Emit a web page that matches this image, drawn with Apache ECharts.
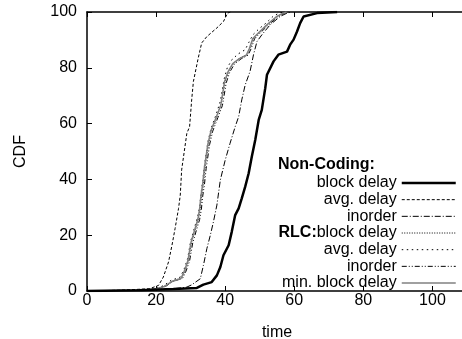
<!DOCTYPE html>
<html>
<head>
<meta charset="utf-8">
<script src="https://cdn.jsdelivr.net/npm/echarts@6/dist/echarts.min.js"></script>
<style>
html,body{margin:0;padding:0;background:#fff;}
#main{width:462px;height:339px;}
</style>
</head>
<body>
<div id="main"></div>
<script>
// CDF curves, [time, CDF]
var ncBlock = [[0,0],[15,0.3],[25,0.7],[31.8,1.1],[33.7,2.3],[36.1,3.2],[37.6,5.6],[38.6,8.6],[39.5,12.8],[41.0,16.4],[41.9,21.2],[42.9,27.2],[43.9,29.6],[44.8,33.2],[45.8,37.4],[46.8,42.2],[47.7,48.1],[48.7,54.1],[49.7,61.3],[50.6,64.9],[51.6,72.7],[52.1,77.5],[54.0,82.3],[55.4,84.7],[57.9,85.8],[58.8,88.3],[59.8,90.1],[60.8,93.0],[61.7,96.0],[62.7,98.4],[66.6,99.6],[72.4,100]];
var ncAvg = [[0,0],[10,0.3],[18,0.8],[20.7,2.0],[22.1,5.0],[23.6,10.4],[24.6,16.4],[25.5,22.4],[26.5,29.6],[27.0,34.4],[27.4,43.4],[28.9,56.5],[29.7,58.9],[30.3,68.5],[30.8,75.1],[32.2,83.5],[33.2,88.9],[34.7,91.2],[37.6,94.3],[39.5,96.6],[40.7,99.6],[41.5,100]];
var ncInorder = [[0,0],[15,0.3],[25,0.8],[28.9,1.4],[30.3,2.2],[32.8,4.4],[33.7,9.2],[34.7,15.2],[35.7,20.0],[36.6,24.8],[37.6,30.8],[38.6,39.8],[40.0,46.9],[41.4,52.9],[42.9,58.9],[43.9,62.5],[44.8,68.5],[45.8,73.9],[47.2,78.7],[48.2,84.7],[49.2,89.4],[50.6,91.8],[53.0,95.4],[55.9,98.4],[57.9,99.6],[59,100]];
var rlcBlock = [[0,0],[15,0.3],[20,0.8],[22.6,1.8],[24.6,3.5],[27.4,4.7],[28.4,7.4],[29.4,11.0],[30.3,17.6],[31.3,21.8],[32.3,26.0],[32.8,29.6],[33.2,34.4],[33.7,38.6],[34.2,44.5],[35.2,52.9],[36.1,57.7],[37.6,62.5],[38.8,67.0],[40.0,75.1],[41.0,78.7],[42.4,81.7],[44.3,83.5],[46.3,84.7],[47.2,87.1],[48.2,90.7],[50.1,93.0],[52.1,95.4],[55.0,98.4],[56.9,99.6],[58,100]];
var rlcAvg = [[0,0],[15,0.3],[20,0.9],[22.3,2.0],[24.3,3.8],[27.0,5.0],[28.1,7.8],[29.1,11.5],[30.0,17.8],[31.0,22.2],[32.0,26.5],[32.6,30.0],[33.0,35.0],[33.5,39.5],[34.0,45.0],[35.0,53.5],[35.9,58.2],[37.3,63.0],[38.6,68.0],[39.7,76.0],[40.6,80.0],[42.0,83.0],[43.8,85.0],[45.8,86.5],[46.8,89.0],[48.0,91.8],[49.8,94.0],[51.8,96.0],[54.0,98.6],[55.8,99.7],[57,100]];
var rlcInorder = [[0,0],[15,0.3],[20,0.8],[22.8,1.7],[24.9,3.4],[27.7,4.6],[28.7,7.2],[29.7,10.8],[30.6,17.2],[31.6,21.5],[32.6,25.6],[33.1,29.2],[33.5,34.0],[34.0,38.2],[34.5,44.0],[35.5,52.5],[36.4,57.3],[37.9,62.2],[39.2,66.5],[40.3,74.6],[41.3,78.4],[42.7,81.4],[44.6,83.2],[46.6,84.5],[47.5,86.8],[48.5,90.4],[50.4,92.8],[52.4,95.2],[55.3,98.3],[57.2,99.6],[58.3,100]];
var minBlock = [[0,0],[15,0.2],[20,0.7],[22.4,1.6],[24.4,3.3],[27.2,4.5],[28.2,7.2],[29.2,10.8],[30.1,17.4],[31.1,21.6],[32.1,25.8],[32.6,29.4],[33.0,34.2],[33.5,38.4],[34.0,44.3],[35.0,52.7],[35.9,57.5],[37.4,62.3],[38.7,66.4],[39.8,75.0],[40.8,78.5],[42.2,81.5],[44.1,83.3],[46.1,84.5],[47.0,86.9],[48.0,90.5],[49.9,92.8],[51.9,95.2],[54.8,98.3],[56.7,99.5],[57.8,100]];

var seriesNames = ['nc block', 'nc avg', 'nc inorder', 'rlc block', 'rlc avg', 'rlc inorder', 'min block'];
var legendLabels = ['block delay', 'avg. delay', 'inorder', '{b|RLC:}block delay', 'avg. delay', 'inorder', 'min. block delay'];
var xTicks = [0, 20, 40, 60, 80, 100];

var font = '"Liberation Sans", Arial, Helvetica, sans-serif';

function mkLine(name, data, color, width, dash) {
	return {
		name: name,
		type: 'line',
		data: data,
		showSymbol: false,
		symbol: 'none',
		silent: true,
		z: name == 'nc block' ? 5 : 3,
		itemStyle: {color: color},
		lineStyle: {color: color, width: width, type: dash}
	};
}

var myChart = echarts.init(document.getElementById('main'));
var option = {
	animation: false,
	backgroundColor: '#fff',
	grid: {left: 87, top: 12, right: -5, bottom: 48, outerBoundsMode: 'none', containLabel: false},
	xAxis: [{
		type: 'value',
		min: 0, max: 110, interval: 20,
		name: 'time',
		nameLocation: 'middle',
		nameGap: 34,
		nameTextStyle: {fontFamily: font, fontSize: 16, color: '#000'},
		axisLine: {lineStyle: {color: '#000', width: 1.5}},
		axisTick: {inside: true, length: 5, lineStyle: {color: '#000'}},
		axisLabel: {
			margin: 2, fontFamily: font, fontSize: 16, color: '#000', showMaxLabel: false,
			formatter: function(v) { return xTicks.indexOf(v) >= 0 ? String(v) : ''; }
		},
		splitLine: {show: false}
	}, {
		type: 'value',
		position: 'top',
		min: 0, max: 110, interval: 20,
		axisLine: {lineStyle: {color: '#000', width: 1.5}},
		axisTick: {inside: true, length: 5, lineStyle: {color: '#000'}},
		axisLabel: {show: false},
		splitLine: {show: false}
	}],
	yAxis: {
		type: 'value',
		min: 0, max: 100, interval: 20,
		name: 'CDF',
		nameLocation: 'middle',
		nameGap: 58,
		nameTextStyle: {fontFamily: font, fontSize: 16, color: '#000'},
		axisLine: {show: true, lineStyle: {color: '#000', width: 1.5}},
		axisTick: {inside: true, length: 5, lineStyle: {color: '#000'}},
		axisLabel: {margin: 10, fontFamily: font, fontSize: 16, color: '#000'},
		splitLine: {show: false}
	},
	legend: {
		orient: 'vertical',
		right: 5,
		top: 175,
		padding: 0,
		align: 'right',
		itemWidth: 54,
		itemHeight: 10,
		itemGap: 0.67,
		selectedMode: false,
		data: seriesNames,
		formatter: function(name) {
			return legendLabels[seriesNames.indexOf(name)];
		},
		itemStyle: {opacity: 0},
		lineStyle: {width: 'inherit'},
		textStyle: {
			fontFamily: font, fontSize: 16, lineHeight: 16, color: '#000',
			rich: {b: {fontFamily: font, fontSize: 16, lineHeight: 16, fontWeight: 'bold', color: '#000'}}
		}
	},
	graphic: [{
		type: 'text',
		left: 278,
		top: 157,
		style: {text: 'Non-Coding:', font: 'bold 16px ' + font, fill: '#000'}
	}],
	series: [
		mkLine('nc block', ncBlock, '#000', 2.5, 'solid'),
		mkLine('nc avg', ncAvg, '#000', 1, [3, 2]),
		mkLine('nc inorder', ncInorder, '#000', 1, [6, 2, 1, 2]),
		mkLine('rlc block', rlcBlock, '#000', 1, [1, 1.5]),
		mkLine('rlc avg', rlcAvg, '#000', 1, [1.5, 3.5]),
		mkLine('rlc inorder', rlcInorder, '#000', 1, [5, 2, 1, 2, 1, 2]),
		mkLine('min block', minBlock, '#808080', 1.5, 'solid')
	]
};
myChart.setOption(option);
</script>
</body>
</html>
